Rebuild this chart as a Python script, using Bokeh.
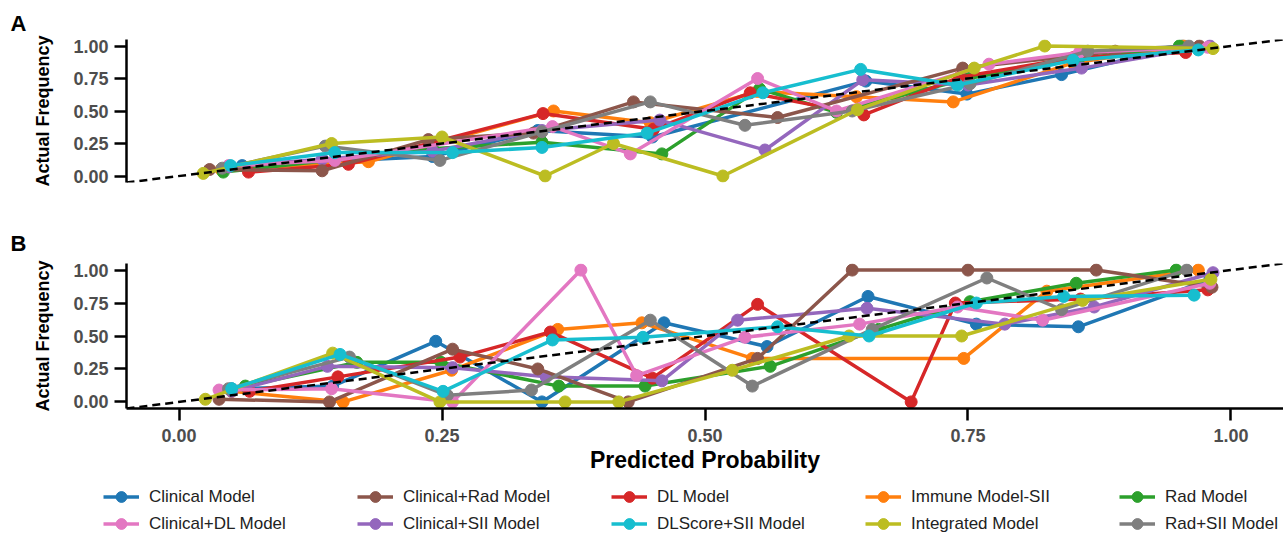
from bokeh.plotting import figure
from bokeh.layouts import column
from bokeh.models import Range1d, FixedTicker, PrintfTickFormatter, Legend, LegendItem
from bokeh.embed import file_html
from bokeh.resources import INLINE

FONT = "Liberation Sans"

# ---------------- data: panel A ----------------
a_clinical_x = [0.060, 0.241, 0.341, 0.450, 0.653, 0.749, 0.839, 0.954]
a_clinical_y = [0.08, 0.15, 0.35, 0.30, 0.73, 0.63, 0.78, 1.00]
a_immune_x = [0.040, 0.180, 0.356, 0.448, 0.550, 0.644, 0.736, 0.850, 0.955]
a_immune_y = [0.05, 0.11, 0.50, 0.41, 0.65, 0.61, 0.57, 0.87, 1.00]
a_rad_x = [0.042, 0.241, 0.345, 0.459, 0.552, 0.625, 0.750, 0.855, 0.951]
a_rad_y = [0.03, 0.21, 0.26, 0.17, 0.67, 0.49, 0.75, 0.90, 1.00]
a_dl_x = [0.066, 0.161, 0.346, 0.451, 0.543, 0.651, 0.742, 0.850, 0.957]
a_dl_y = [0.03, 0.09, 0.48, 0.36, 0.64, 0.47, 0.76, 0.91, 0.95]
a_clinsii_x = [0.047, 0.136, 0.241, 0.345, 0.457, 0.557, 0.650, 0.750, 0.858, 0.980]
a_clinsii_y = [0.07, 0.13, 0.19, 0.35, 0.43, 0.20, 0.74, 0.70, 0.83, 1.00]
a_clinrad_x = [0.029, 0.136, 0.237, 0.337, 0.432, 0.569, 0.745, 0.890, 0.970]
a_clinrad_y = [0.05, 0.04, 0.28, 0.33, 0.57, 0.45, 0.83, 0.96, 1.00]
a_clindl_x = [0.047, 0.148, 0.355, 0.429, 0.550, 0.625, 0.770, 0.856, 0.978]
a_clindl_y = [0.08, 0.12, 0.38, 0.17, 0.75, 0.50, 0.86, 0.95, 0.99]
a_radsii_x = [0.041, 0.139, 0.248, 0.345, 0.448, 0.538, 0.640, 0.752, 0.864, 0.960]
a_radsii_y = [0.06, 0.23, 0.12, 0.34, 0.57, 0.39, 0.50, 0.71, 0.96, 1.00]
a_integ_x = [0.023, 0.145, 0.250, 0.348, 0.413, 0.517, 0.645, 0.756, 0.823, 0.983]
a_integ_y = [0.02, 0.25, 0.30, 0.00, 0.25, 0.00, 0.51, 0.83, 1.00, 0.98]
a_dlsii_x = [0.049, 0.148, 0.260, 0.345, 0.445, 0.555, 0.648, 0.740, 0.850, 0.969]
a_dlsii_y = [0.08, 0.18, 0.18, 0.22, 0.33, 0.64, 0.82, 0.70, 0.89, 0.97]

# ---------------- data: panel B ----------------
b_clinical_x = [0.050, 0.146, 0.244, 0.345, 0.461, 0.559, 0.655, 0.758, 0.855, 0.980]
b_clinical_y = [0.10, 0.12, 0.46, 0.00, 0.60, 0.42, 0.80, 0.59, 0.57, 0.93]
b_immune_x = [0.050, 0.156, 0.259, 0.360, 0.440, 0.545, 0.746, 0.825, 0.969]
b_immune_y = [0.08, 0.00, 0.24, 0.55, 0.60, 0.33, 0.33, 0.84, 1.00]
b_rad_x = [0.063, 0.169, 0.249, 0.361, 0.443, 0.562, 0.665, 0.752, 0.853, 0.948]
b_rad_y = [0.12, 0.30, 0.30, 0.12, 0.12, 0.27, 0.55, 0.76, 0.90, 1.00]
b_dl_x = [0.067, 0.151, 0.267, 0.353, 0.450, 0.550, 0.696, 0.738, 0.857, 0.978]
b_dl_y = [0.08, 0.19, 0.34, 0.53, 0.18, 0.74, 0.00, 0.75, 0.78, 0.85]
b_clinsii_x = [0.050, 0.141, 0.260, 0.349, 0.459, 0.531, 0.654, 0.785, 0.870, 0.983]
b_clinsii_y = [0.08, 0.27, 0.26, 0.19, 0.16, 0.62, 0.71, 0.59, 0.72, 0.98]
b_clinrad_x = [0.038, 0.143, 0.260, 0.341, 0.427, 0.550, 0.640, 0.750, 0.872, 0.982]
b_clinrad_y = [0.02, 0.00, 0.40, 0.25, 0.00, 0.33, 1.00, 1.00, 1.00, 0.87]
b_clindl_x = [0.038, 0.145, 0.260, 0.382, 0.435, 0.538, 0.647, 0.740, 0.821, 0.980]
b_clindl_y = [0.09, 0.10, 0.00, 1.00, 0.20, 0.49, 0.59, 0.72, 0.62, 0.90]
b_radsii_x = [0.047, 0.162, 0.255, 0.335, 0.448, 0.545, 0.659, 0.768, 0.839, 0.958]
b_radsii_y = [0.10, 0.34, 0.05, 0.09, 0.62, 0.12, 0.55, 0.94, 0.70, 1.00]
b_integ_x = [0.025, 0.146, 0.248, 0.367, 0.418, 0.526, 0.637, 0.744, 0.859, 0.981]
b_integ_y = [0.02, 0.37, 0.00, 0.00, 0.00, 0.24, 0.50, 0.50, 0.77, 0.93]
b_dlsii_x = [0.050, 0.153, 0.251, 0.355, 0.441, 0.569, 0.656, 0.758, 0.841, 0.965]
b_dlsii_y = [0.10, 0.36, 0.08, 0.47, 0.49, 0.57, 0.50, 0.75, 0.80, 0.81]

# drawing order (matplotlib colour cycle order)
model_names = ["Clinical Model", "Immune Model-SII", "Rad Model", "DL Model",
               "Clinical+SII Model", "Clinical+Rad Model", "Clinical+DL Model",
               "Rad+SII Model", "Integrated Model", "DLScore+SII Model"]
model_colors = ["#1f77b4", "#ff7f0e", "#2ca02c", "#d62728", "#9467bd",
                "#8c564b", "#e377c2", "#7f7f7f", "#bcbd22", "#17becf"]
legend_order = ["Clinical Model", "Clinical+Rad Model", "DL Model", "Immune Model-SII", "Rad Model",
                "Clinical+DL Model", "Clinical+SII Model", "DLScore+SII Model", "Integrated Model", "Rad+SII Model"]

tick_values = [0.0, 0.25, 0.5, 0.75, 1.0]
axis_limits = [-0.05, 1.05]

panel_a = [(a_clinical_x, a_clinical_y), (a_immune_x, a_immune_y), (a_rad_x, a_rad_y),
           (a_dl_x, a_dl_y), (a_clinsii_x, a_clinsii_y), (a_clinrad_x, a_clinrad_y),
           (a_clindl_x, a_clindl_y), (a_radsii_x, a_radsii_y), (a_integ_x, a_integ_y),
           (a_dlsii_x, a_dlsii_y)]
panel_b = [(b_clinical_x, b_clinical_y), (b_immune_x, b_immune_y), (b_rad_x, b_rad_y),
           (b_dl_x, b_dl_y), (b_clinsii_x, b_clinsii_y), (b_clinrad_x, b_clinrad_y),
           (b_clindl_x, b_clindl_y), (b_radsii_x, b_radsii_y), (b_integ_x, b_integ_y),
           (b_dlsii_x, b_dlsii_y)]

W = 1283
LINE_W = 3.5
MARK = 12
xr = Range1d(axis_limits[0], axis_limits[1])
yr_a = Range1d(axis_limits[0], axis_limits[1])
yr_b = Range1d(axis_limits[0], axis_limits[1])


def style_axis(ax):
    ax.axis_line_width = 2.5
    ax.axis_line_color = "black"
    ax.major_tick_line_width = 2.5
    ax.major_tick_line_color = "black"
    ax.major_tick_out = 12
    ax.major_tick_in = 0
    ax.minor_tick_line_color = None
    ax.major_label_text_font = FONT
    ax.major_label_text_font_style = "bold"
    ax.major_label_text_font_size = "18px"
    ax.major_label_text_color = "#4d4d4d"
    ax.major_label_standoff = 6
    ax.axis_label_text_font = FONT
    ax.axis_label_text_font_style = "bold"
    ax.axis_label_text_color = "black"
    ax.ticker = FixedTicker(ticks=tick_values)
    ax.formatter = PrintfTickFormatter(format="%.2f")


def make_panel(series, letter, height, top, standoff, yr, show_x, bottom):
    p = figure(width=W, height=height, x_range=xr, y_range=yr,
               output_backend="svg", toolbar_location=None,
               x_axis_location="below" if show_x else None,
               min_border_left=126, min_border_right=0,
               min_border_top=top, min_border_bottom=bottom)
    p.title.text = letter
    p.title.text_font = FONT
    p.title.text_font_size = "22px"
    p.title.text_font_style = "bold"
    p.title.text_color = "black"
    p.title.align = "left"
    p.title.offset = -116
    p.title.standoff = standoff
    p.outline_line_color = None
    p.xgrid.grid_line_color = None
    p.ygrid.grid_line_color = None
    for ax in p.yaxis:
        style_axis(ax)
        ax.axis_label = "Actual Frequency"
        ax.axis_label_text_font_size = "18px"
        ax.axis_label_standoff = 17
    if show_x:
        for ax in p.xaxis:
            style_axis(ax)
            ax.major_label_standoff = 8
            ax.axis_label = "Predicted Probability"
            ax.axis_label_text_font_size = "23px"
            ax.axis_label_standoff = 2
    renderers = {}
    for name, color, (xs, ys) in zip(model_names, model_colors, series):
        rl = p.line(xs, ys, line_color=color, line_width=LINE_W)
        rs = p.scatter(xs, ys, size=MARK, fill_color=color, line_color=color)
        renderers[name] = [rl, rs]
    p.line([xr.start, xr.end], [yr.start, yr.end], line_color="black",
           line_width=2.5, line_dash="8 5")
    return p, renderers


pA, _ = make_panel(panel_a, "A", 202, 39, 8, yr_a, False, 20)
pB, _ = make_panel(panel_b, "B", 273, 61, 16, yr_b, True, 0)

# legend strip: same series drawn off-frame, only the legend is visible
pL = figure(width=W, height=62, x_range=Range1d(5, 6), y_range=Range1d(5, 6),
            output_backend="svg", toolbar_location=None,
            x_axis_location=None, y_axis_location=None,
            min_border_left=0, min_border_right=0, min_border_top=0, min_border_bottom=0)
pL.outline_line_color = None
pL.xgrid.grid_line_color = None
pL.ygrid.grid_line_color = None
rend_l = {}
for name, color, (xs, ys) in zip(model_names, model_colors, panel_b):
    rl = pL.line(xs, ys, line_color=color, line_width=LINE_W)
    rs = pL.scatter(xs, ys, size=MARK, fill_color=color, line_color=color)
    rend_l[name] = [rl, rs]

items = [LegendItem(label=n, renderers=rend_l[n]) for n in legend_order]
legend = Legend(items=items, ncols=5, orientation="horizontal",
                location=(103, 0), label_text_font=FONT, label_text_font_size="17px",
                label_text_color="#222222", glyph_width=36, glyph_height=27,
                label_standoff=10, label_width=208, spacing=0, padding=0, margin=0,
                border_line_color=None, background_fill_alpha=0)
pL.add_layout(legend, "center")

layout = column(column(pA, pB), pL)
open("out.html", "w").write(file_html(layout, INLINE))
